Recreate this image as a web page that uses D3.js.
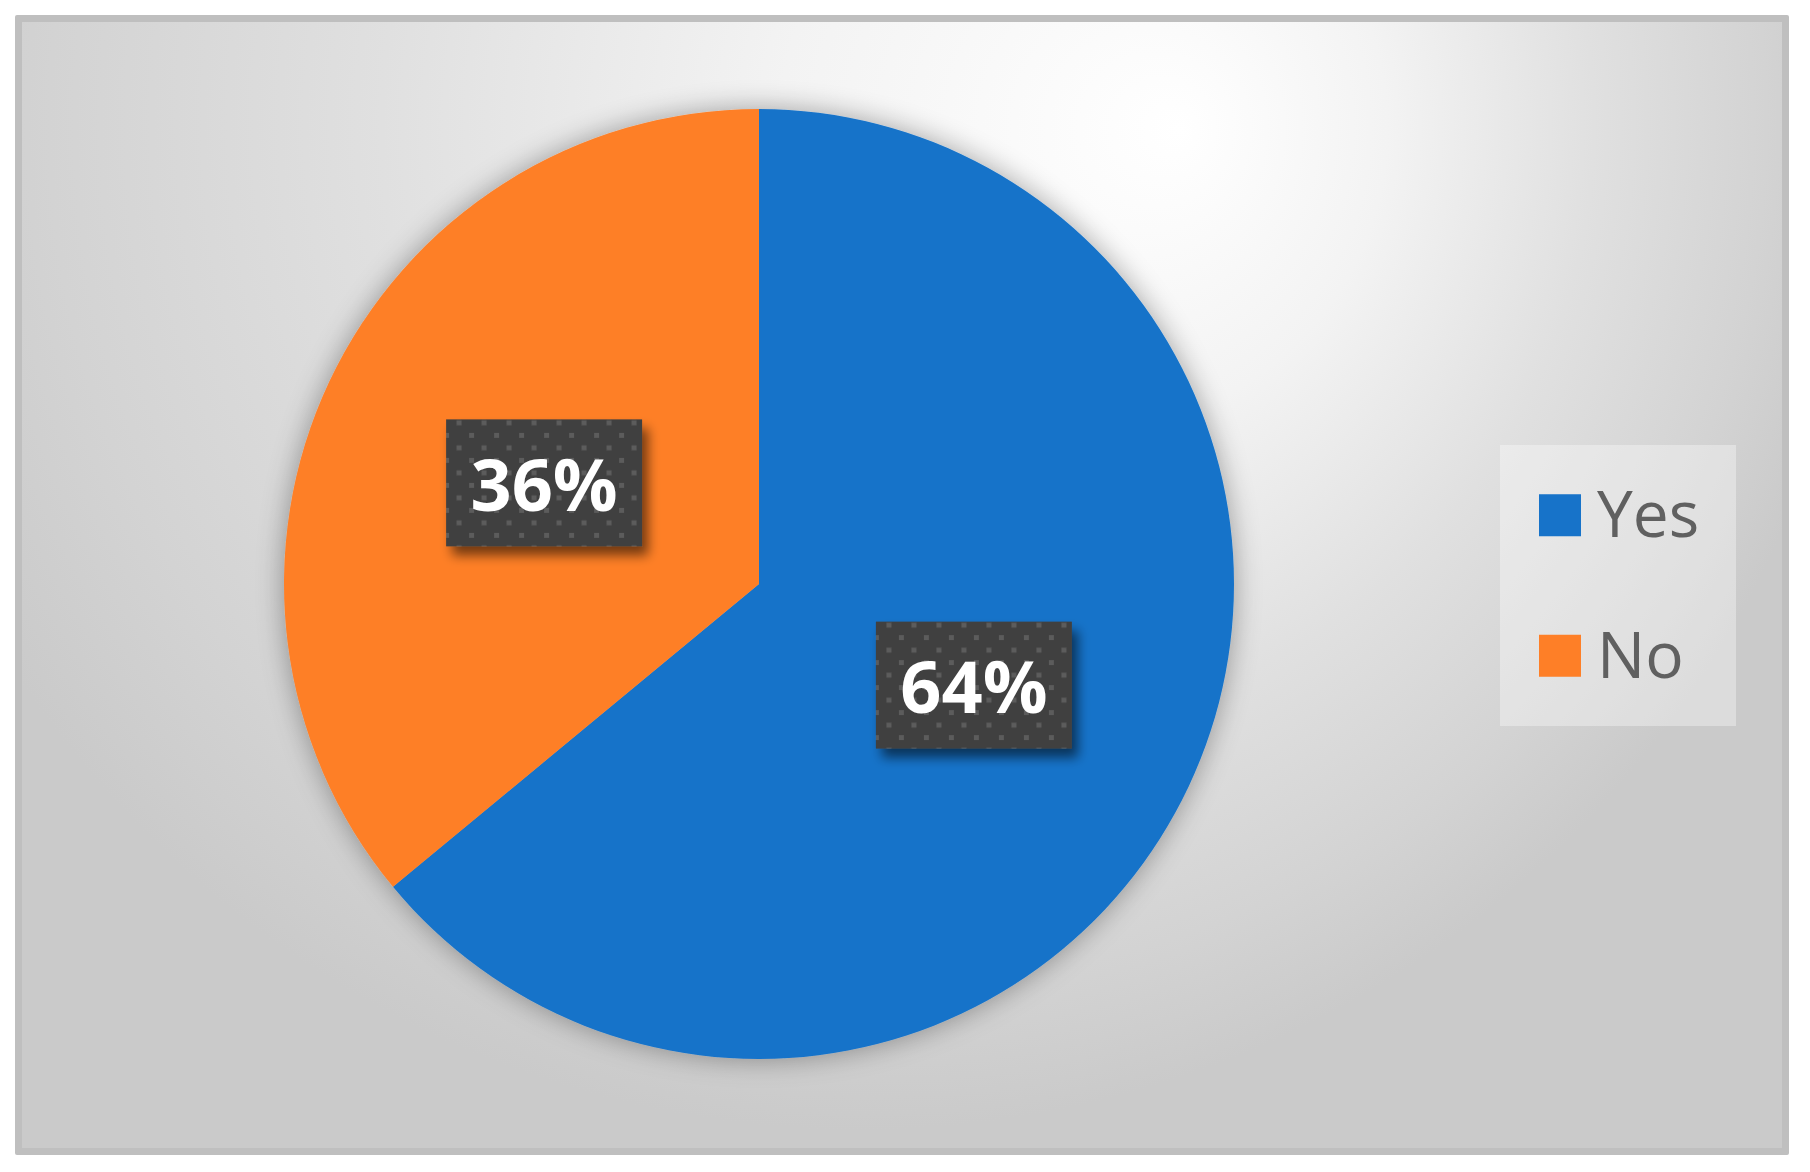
<!DOCTYPE html>
<html>
<head>
<meta charset="utf-8">
<script src="https://cdn.jsdelivr.net/npm/d3@7"></script>
<style>
  body { margin: 0; background: #fff; }
  svg { display: block; }
</style>
</head>
<body>
<svg id="chart"></svg>
<script>
const width = 1810, height = 1172;

// data
const categories = ["Yes", "No"];
const values = [64, 36];
const colors = ["#1773c9", "#fe7f27"];

const svg = d3.select("#chart")
    .attr("width", width)
    .attr("height", height);

const defs = svg.append("defs");

// chart area background
const bg = defs.append("radialGradient")
    .attr("id", "bgGrad")
    .attr("gradientUnits", "userSpaceOnUse")
    .attr("cx", 860).attr("cy", 120).attr("r", 1010)
    .attr("fx", 1180).attr("fy", 130);
bg.append("stop").attr("offset", 0).attr("stop-color", "#ffffff");
bg.append("stop").attr("offset", 0.3).attr("stop-color", "#f3f3f3");
bg.append("stop").attr("offset", 0.6).attr("stop-color", "#e0e0e0");
bg.append("stop").attr("offset", 0.85).attr("stop-color", "#d3d3d3");
bg.append("stop").attr("offset", 1).attr("stop-color", "#cacaca");

// soft shadow round the pie
const pieShadow = defs.append("filter").attr("id", "pieShadow")
    .attr("x", "-20%").attr("y", "-20%").attr("width", "140%").attr("height", "140%");
pieShadow.append("feGaussianBlur").attr("in", "SourceAlpha").attr("stdDeviation", 14).attr("result", "b");
pieShadow.append("feComponentTransfer").attr("in", "b").attr("result", "s")
    .append("feFuncA").attr("type", "linear").attr("slope", 0.35);
const pm = pieShadow.append("feMerge");
pm.append("feMergeNode").attr("in", "s");
pm.append("feMergeNode").attr("in", "SourceGraphic");

// drop shadow for the label boxes
const lblShadow = defs.append("filter").attr("id", "lblShadow")
    .attr("x", "-30%").attr("y", "-30%").attr("width", "160%").attr("height", "170%");
lblShadow.append("feGaussianBlur").attr("in", "SourceAlpha").attr("stdDeviation", 6).attr("result", "b");
lblShadow.append("feOffset").attr("in", "b").attr("dx", 6).attr("dy", 9).attr("result", "o");
lblShadow.append("feComponentTransfer").attr("in", "o").attr("result", "s")
    .append("feFuncA").attr("type", "linear").attr("slope", 0.55);
const lm = lblShadow.append("feMerge");
lm.append("feMergeNode").attr("in", "s");
lm.append("feMergeNode").attr("in", "SourceGraphic");

// dotted pattern of the label boxes
const pat = defs.append("pattern").attr("id", "dots")
    .attr("patternUnits", "userSpaceOnUse")
    .attr("width", 25).attr("height", 25);
pat.append("rect").attr("width", 25).attr("height", 25).attr("fill", "#404040");
pat.append("rect").attr("x", 0).attr("y", 0).attr("width", 5).attr("height", 5).attr("fill", "#5c5c5c");
pat.append("rect").attr("x", 12.5).attr("y", 12.5).attr("width", 5).attr("height", 5).attr("fill", "#5c5c5c");

// frame + background
svg.append("rect")
    .attr("x", 15).attr("y", 15).attr("width", 1774).attr("height", 1140)
    .attr("rx", 2)
    .attr("fill", "#bfbfbf");
svg.append("rect")
    .attr("x", 22).attr("y", 22).attr("width", 1760).attr("height", 1126)
    .attr("fill", "url(#bgGrad)");

// pie
const cx = 759, cy = 584, radius = 475;
const pie = d3.pie().sort(null).value(d => d.value);
const arcs = pie(categories.map((c, i) => ({name: c, value: values[i], color: colors[i]})));
const total = d3.sum(values);
const arc = d3.arc().innerRadius(0).outerRadius(radius);

const g = svg.append("g").attr("transform", `translate(${cx},${cy})`);

g.append("g")
    .attr("filter", "url(#pieShadow)")
    .selectAll("path")
    .data(arcs)
    .join("path")
    .attr("d", arc)
    .attr("fill", d => d.data.color);

// data labels
const fmt = d3.format(".0%");
const boxW = 196, boxH = 127;
const labels = g.selectAll("g.lbl")
    .data(arcs)
    .join("g")
    .attr("class", "lbl")
    .attr("transform", d => `translate(${arc.centroid(d)})`);

labels.append("rect")
    .attr("x", -boxW / 2).attr("y", -boxH / 2)
    .attr("width", boxW).attr("height", boxH)
    .attr("fill", "url(#dots)")
    .attr("filter", "url(#lblShadow)");

labels.append("text")
    .attr("text-anchor", "middle")
    .attr("dy", 28)
    .attr("font-family", "'Open Sans', sans-serif")
    .attr("font-weight", "bold")
    .attr("font-size", 72)
    .attr("fill", "#ffffff")
    .text(d => fmt(d.data.value / total));

// legend
const legendBox = {x: 1500, y: 445, w: 236, h: 281};
svg.append("rect")
    .attr("x", legendBox.x).attr("y", legendBox.y)
    .attr("width", legendBox.w).attr("height", legendBox.h)
    .attr("fill", "#ffffff").attr("fill-opacity", 0.35);

const ly = d3.scaleBand()
    .domain(categories)
    .range([legendBox.y, legendBox.y + legendBox.h]);

const items = svg.selectAll("g.leg")
    .data(categories)
    .join("g")
    .attr("class", "leg")
    .attr("transform", d => `translate(${legendBox.x + 39},${ly(d) + ly.bandwidth() / 2})`);

items.append("rect")
    .attr("x", 0).attr("y", -21)
    .attr("width", 42).attr("height", 42)
    .attr("fill", (d, i) => colors[i]);

items.append("text")
    .attr("x", 58)
    .attr("y", 22)
    .attr("font-family", "'Open Sans', sans-serif")
    .attr("font-size", 64)
    .attr("fill", "#606060")
    .text(d => d);
</script>
</body>
</html>
